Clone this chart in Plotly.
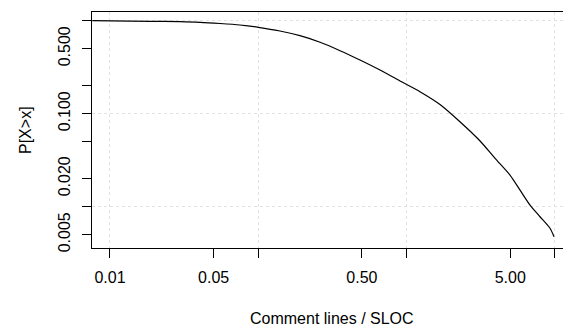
import plotly.graph_objects as go

# CCDF data
ratio = [0.0076, 0.0186, 0.0297, 0.0405, 0.0552, 0.0752, 0.1, 0.140, 0.191,
         0.261, 0.356, 0.485, 0.662, 0.903, 1.231, 1.68, 2.29, 3.13, 3.95,
         4.98, 5.82, 6.80, 7.94, 9.27, 9.86]
prob = [1.0, 0.985, 0.976, 0.961, 0.933, 0.899, 0.849, 0.775, 0.690,
        0.586, 0.476, 0.378, 0.295, 0.2247, 0.1724, 0.1256, 0.0820, 0.0509, 0.0331,
        0.0219, 0.0151, 0.0104, 0.0078, 0.00586, 0.00476]

x_tickvals = [0.01, 0.05, 0.1, 0.5, 1, 5, 10]
x_ticktext = ["0.01", "0.05", "", "0.50", "", "5.00", ""]
y_tickvals = [0.005, 0.01, 0.02, 0.05, 0.1, 0.2, 0.5, 1]
y_ticktext = ["0.005", "", "0.020", "", "0.100", "", "0.500", ""]
x_grid = [0.01, 0.1, 1, 10]
y_grid = [0.01, 0.1, 1]
x_title = "Comment lines / SLOC"
y_title = "P[X>x]"

FONT = "Liberation Sans, Arial, Helvetica, sans-serif"

fig = go.Figure()
fig.add_trace(go.Scatter(x=ratio, y=prob, mode="lines",
                         line=dict(color="black", width=1.2, shape="spline", smoothing=0.7),
                         showlegend=False, hoverinfo="skip"))

# the page body has an 8px margin, so the figure is 8px smaller and shifted
fig.update_layout(
    width=563, height=318,
    margin=dict(l=84, r=0, t=4, b=78, autoexpand=False),
    paper_bgcolor="white", plot_bgcolor="white",
    font=dict(family=FONT, size=16, color="black"),
    xaxis=dict(
        type="log", range=[-2.121, 1.1086], automargin=False,
        tickmode="array", tickvals=x_tickvals, ticktext=x_ticktext,
        ticks="outside", ticklen=9, tickwidth=1, tickcolor="black",
        showline=True, linecolor="black", linewidth=1, mirror=True,
        showgrid=False, zeroline=False,
        ticklabelstandoff=6,
        tickfont=dict(size=16),
        minor=dict(tickmode="array", tickvals=x_grid, ticks="", showgrid=True,
                   gridcolor="#e2e2e2", griddash="dot", gridwidth=1),
    ),
    yaxis=dict(
        type="log", range=[-2.444, 0.0935], automargin=False,
        tickmode="array", tickvals=y_tickvals, ticktext=y_ticktext,
        ticks="outside", ticklen=9, tickwidth=1, tickcolor="black",
        showline=True, linecolor="black", linewidth=1, mirror=False,
        showgrid=False, zeroline=False,
        tickangle=-90, ticklabelstandoff=6,
        tickfont=dict(size=16),
        minor=dict(tickmode="array", tickvals=y_grid, ticks="", showgrid=True,
                   gridcolor="#e2e2e2", griddash="dot", gridwidth=1),
    ),
    annotations=[
        dict(text=x_title, xref="paper", yref="paper", x=0.5, y=0,
             xanchor="center", yanchor="middle", yshift=-70, showarrow=False,
             font=dict(size=16)),
        dict(text=y_title, xref="paper", yref="paper", x=0, y=0.5,
             xanchor="center", yanchor="middle", xshift=-67, textangle=-90,
             showarrow=False, font=dict(size=16)),
    ],
)

fig.write_html("out.html")
